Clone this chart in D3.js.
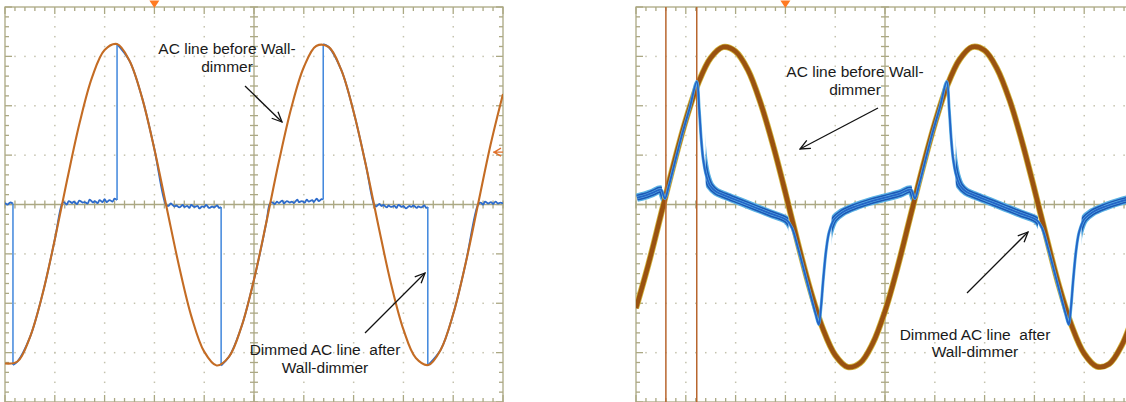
<!DOCTYPE html>
<html><head><meta charset="utf-8">
<script src="https://cdn.jsdelivr.net/npm/d3@7"></script>
<style>html,body{margin:0;padding:0;background:#fff;overflow:hidden}svg{display:block}</style>
</head><body><svg id="c" width="1126" height="402"></svg>
<script>
// ---- data (time in divisions, amplitude in divisions) ----
const sampleDiv = [0,0.25,0.5,0.75,1,1.25,1.5,1.75,2,2.25,2.5,2.75,3,3.25,3.5,3.75,4,4.25,4.5,4.75,5,5.25,5.5,5.75,6,6.25,6.5,6.75,7,7.25,7.5,7.75,8,8.25,8.5,8.75,9,9.25,9.5,9.75,10];
const leftLineBefore = [-3.22,-3.18,-2.69,-1.83,-0.71,0.51,1.66,2.58,3.13,3.25,2.91,2.17,1.12,-0.08,-1.27,-2.29,-2.98,-3.26,-3.08,-2.47,-1.52,-0.35,0.87,1.96,2.78,3.21,3.19,2.73,1.88,0.78,-0.44,-1.60,-2.53,-3.11,-3.25,-2.94,-2.22,-1.19,0.01,1.21,2.24];
const leftDimmed = [[0,0.03],[0.05,0.0],[0.1,0.04],[0.16,0.02],[0.16,-3.25],[0.25,-3.18],[0.5,-2.69],[0.75,-1.83],[1.0,-0.71],[1.14,0.0],
 [1.18,0.05],[1.24,0.0],[1.28,0.07],[1.35,0.03],[1.38,0.06],[1.45,0.01],[1.49,0.08],[1.56,0.04],[1.6,0.05],[1.66,0.02],[1.7,0.1],[1.77,0.04],[1.8,0.07],[1.86,0.03],[1.9,0.09],[1.96,0.05],[2.0,0.11],[2.04,0.05],[2.1,0.09],[2.16,0.06],[2.2,0.12],[2.25,0.09],
 [2.25,3.25],[2.5,2.91],[2.75,2.17],[3.0,1.12],[3.23,0.0],
 [3.28,-0.03],[3.33,0.02],[3.4,-0.04],[3.44,-0.02],[3.5,-0.06],[3.57,-0.01],[3.6,-0.05],[3.66,-0.03],[3.7,-0.07],[3.74,-0.01],[3.8,-0.05],[3.87,-0.03],[3.9,-0.08],[3.96,-0.04],[4.0,-0.05],[4.04,-0.01],[4.1,-0.07],[4.16,-0.04],[4.2,-0.06],[4.26,-0.02],[4.3,-0.07],[4.34,-0.05],
 [4.34,-3.26],[4.5,-3.08],[4.75,-2.47],[5.0,-1.52],[5.25,-0.35],[5.31,0.0],
 [5.35,0.05],[5.42,0.01],[5.46,0.06],[5.5,0.03],[5.57,0.08],[5.6,0.02],[5.66,0.07],[5.72,0.04],[5.76,0.06],[5.8,0.03],[5.87,0.1],[5.9,0.05],[5.96,0.07],[6.02,0.04],[6.06,0.1],[6.1,0.06],[6.17,0.09],[6.2,0.05],[6.26,0.12],[6.3,0.07],[6.36,0.11],[6.39,0.1],
 [6.39,3.25],[6.5,3.19],[6.75,2.73],[7.0,1.88],[7.25,0.78],[7.41,0.0],
 [7.45,-0.04],[7.52,0.01],[7.56,-0.03],[7.6,-0.01],[7.67,-0.06],[7.7,-0.02],[7.75,-0.05],[7.82,-0.03],[7.86,-0.07],[7.9,-0.01],[7.97,-0.05],[8.0,-0.03],[8.05,-0.08],[8.12,-0.03],[8.16,-0.05],[8.2,-0.02],[8.27,-0.07],[8.3,-0.04],[8.36,-0.06],[8.42,-0.02],[8.46,-0.07],[8.49,-0.05],
 [8.49,-3.26],[8.5,-3.25],[8.75,-2.94],[9.0,-2.22],[9.25,-1.19],[9.5,0.0],
 [9.55,0.04],[9.6,0.0],[9.64,0.06],[9.7,0.02],[9.76,0.05],[9.8,0.01],[9.85,0.06],[9.9,0.02],[9.95,0.04],[10,0.02]];
const rightLineBefore = [-2.10,-1.21,-0.21,0.79,1.71,2.46,2.97,3.19,3.10,2.72,2.06,1.21,0.24,-0.78,-1.73,-2.51,-3.05,-3.29,-3.21,-2.82,-2.16,-1.28,-0.28,0.72,1.64,2.41,2.94,3.19,3.12,2.75,2.12,1.28,0.31,-0.70,-1.67,-2.46,-3.02,-3.28,-3.23,-2.86,-2.21];
const rightDimmed = [[0.02,0.14],[0.18,0.18],[0.34,0.24],[0.50,0.30],[0.58,0.12],[0.66,0.38],[0.78,0.85],[0.92,1.40],[1.08,1.96],[1.22,2.49],
 [1.27,1.92],[1.31,1.32],[1.35,0.91],[1.41,0.59],[1.49,0.38],[1.61,0.26],[1.79,0.18],[2.09,0.06],[2.39,-0.06],[2.69,-0.18],[3.03,-0.32],
 [3.13,-0.47],[3.25,-0.87],[3.37,-1.32],[3.49,-1.78],[3.61,-2.23],[3.67,-2.43],
 [3.71,-2.13],[3.76,-1.52],[3.82,-0.91],[3.88,-0.55],[3.98,-0.30],[4.14,-0.16],[4.40,-0.04],[4.70,0.06],[5.00,0.14],[5.30,0.22],[5.52,0.30],
 [5.60,0.12],[5.68,0.38],[5.80,0.85],[5.94,1.40],[6.10,1.96],[6.24,2.49],
 [6.29,1.92],[6.33,1.32],[6.37,0.91],[6.43,0.59],[6.51,0.38],[6.63,0.26],[6.81,0.18],[7.11,0.06],[7.41,-0.06],[7.71,-0.18],[8.05,-0.32],
 [8.15,-0.47],[8.27,-0.87],[8.39,-1.32],[8.51,-1.78],[8.63,-2.23],[8.69,-2.43],
 [8.73,-2.13],[8.78,-1.52],[8.84,-0.91],[8.90,-0.55],[9.00,-0.30],[9.16,-0.16],[9.42,-0.04],[9.72,0.06],[10.0,0.13]];
const rightNoisyBands = [[0,0.52],[1.40,3.06],[3.93,5.54],[6.42,8.07],[8.95,10]];
const rightCursors = [0.60, 1.22];
const triggerDiv = 3;
const leftTriggerLevel = 1.06;
const labelBefore = ["AC line before Wall-", "dimmer"];
const labelAfter = ["Dimmed AC line  after", "Wall-dimmer"];

// ---- drawing ----
const svg = d3.select('#c');
const defs = svg.append('defs');
defs.append('marker').attr('id','arr').attr('viewBox','0 0 12 12').attr('refX',11).attr('refY',6)
  .attr('markerWidth',12).attr('markerHeight',12).attr('markerUnits','userSpaceOnUse').attr('orient','auto')
  .append('path').attr('d','M1,1.5 L11,6 L1,10.5').attr('fill','none').attr('stroke','#111').attr('stroke-width',1.3);

const GRID = '#aba883', DOT = '#c4c2ae';

function makePanel(x0, id) {
  const x = d3.scaleLinear().domain([0,10]).range([x0, x0 + 498]);
  const y = d3.scaleLinear().domain([-4,4]).range([402, 7]);
  const g = svg.append('g');
  defs.append('clipPath').attr('id', id).append('rect')
    .attr('x', x(0)).attr('y', y(4)).attr('width', x(10)-x(0)).attr('height', y(-4)-y(4));
  const minorX = d3.range(0, 50.5, 1).map(i => i/5);
  const minorY = d3.range(-20, 20.5, 1).map(i => i/5);
  const dots = g.append('g').attr('fill', DOT);
  for (let i = 1; i < 10; i++) if (i !== 5)
    minorY.forEach(v => { if (Math.abs(v - Math.round(v)) > 0.01) dots.append('rect').attr('x', x(i)-0.7).attr('y', y(v)-0.7).attr('width',1.5).attr('height',1.5); });
  for (let k = -3; k <= 3; k++) if (k !== 0)
    minorX.forEach(v => { if (Math.abs(v - Math.round(v)) > 0.01) dots.append('rect').attr('x', x(v)-0.7).attr('y', y(k)-0.7).attr('width',1.5).attr('height',1.5); });
  for (let i = 1; i < 10; i++) for (let k = -3; k <= 3; k++) if (i!==5 && k!==0)
    dots.append('rect').attr('x', x(i)-0.8).attr('y', y(k)-0.8).attr('width',1.8).attr('height',1.8);
  const lines = g.append('g').attr('stroke', GRID).attr('stroke-width', 1.3).attr('fill','none');
  lines.append('line').attr('x1', x(0)).attr('x2', x(10)).attr('y1', y(0)).attr('y2', y(0));
  lines.append('line').attr('x1', x(5)).attr('x2', x(5)).attr('y1', y(-4)).attr('y2', y(4));
  minorX.forEach(v => lines.append('line').attr('x1', x(v)).attr('x2', x(v)).attr('y1', y(0)-4).attr('y2', y(0)+4));
  minorY.forEach(v => lines.append('line').attr('x1', x(5)-4).attr('x2', x(5)+4).attr('y1', y(v)).attr('y2', y(v)));
  lines.append('rect').attr('x', x(0)).attr('y', y(4)).attr('width', x(10)-x(0)).attr('height', y(-4)-y(4));
  minorX.forEach(v => {
    const L = Math.abs(v - Math.round(v)) < 0.01 ? 7 : 4;
    lines.append('line').attr('x1', x(v)).attr('x2', x(v)).attr('y1', y(4)).attr('y2', y(4)+L);
    lines.append('line').attr('x1', x(v)).attr('x2', x(v)).attr('y1', y(-4)).attr('y2', y(-4)-L);
  });
  minorY.forEach(v => {
    const L = Math.abs(v - Math.round(v)) < 0.01 ? 7 : 4;
    lines.append('line').attr('x1', x(0)).attr('x2', x(0)+L).attr('y1', y(v)).attr('y2', y(v));
    lines.append('line').attr('x1', x(10)).attr('x2', x(10)-L).attr('y1', y(v)).attr('y2', y(v));
  });
  const tx = x(triggerDiv);
  svg.append('path').attr('d', `M${tx-5},0.5 L${tx+5},0.5 L${tx},8 Z`).attr('fill', '#ff7a22');
  const traces = svg.append('g').attr('clip-path', `url(#${id})`);
  return {x, y, traces};
}

// Left panel
const L = makePanel(5, 'clipL');
{
  const line = d3.line().x(d => L.x(d[0])).y(d => L.y(d[1])).curve(d3.curveCatmullRom.alpha(0.5));
  const pieces = [[]], jumps = [];
  leftDimmed.forEach((p, i) => {
    if (i > 0 && p[0] === leftDimmed[i-1][0]) { jumps.push([leftDimmed[i-1], p]); pieces.push([]); }
    pieces[pieces.length-1].push(p);
  });
  pieces.forEach(pc => L.traces.append('path').attr('d', line(pc)).attr('fill','none')
     .attr('stroke', '#2d6bcb').attr('stroke-width', 1.8));
  jumps.forEach(j => L.traces.append('line').attr('x1', L.x(j[0][0])).attr('x2', L.x(j[1][0]))
     .attr('y1', L.y(j[0][1])).attr('y2', L.y(j[1][1])).attr('stroke', '#3f86dc').attr('stroke-width', 1.5));
  const before = sampleDiv.map((t, i) => [t, leftLineBefore[i]]);
  L.traces.append('path').attr('d', line(before)).attr('fill','none').attr('stroke', '#c46c24').attr('stroke-width', 2.1);
  const yv = L.y(leftTriggerLevel), xr = L.x(10);
  svg.append('path').attr('d', `M${xr-2},${yv-4} L${xr-9},${yv} L${xr-2},${yv+4} M${xr-10},${yv} L${xr},${yv}`)
     .attr('fill','none').attr('stroke','#e0702a').attr('stroke-width',1.3);
}

// Right panel
const R = makePanel(636, 'clipR');
{
  const line = d3.line().x(d => R.x(d[0])).y(d => R.y(d[1])).curve(d3.curveCatmullRom.alpha(0.5));
  const before = sampleDiv.map((t, i) => [t, rightLineBefore[i]]);
  R.traces.append('path').attr('d', line(before)).attr('fill','none').attr('stroke', '#d2b43c').attr('stroke-width', 6.2);
  R.traces.append('path').attr('d', line(before)).attr('fill','none').attr('stroke', '#9a5210').attr('stroke-width', 4.6);
  rightCursors.forEach(c => R.traces.append('line').attr('x1', R.x(c)).attr('x2', R.x(c))
     .attr('y1', R.y(4)).attr('y2', R.y(-4)).attr('stroke', '#b8662e').attr('stroke-width', 1.5));
  const bandClip = defs.append('clipPath').attr('id', 'bandR');
  rightNoisyBands.forEach(b => bandClip.append('rect').attr('x', R.x(b[0])).attr('y', 0)
     .attr('width', R.x(b[1]) - R.x(b[0])).attr('height', 402));
  const band = R.traces.append('g').attr('clip-path', 'url(#bandR)');
  band.append('path').attr('d', line(rightDimmed)).attr('fill','none').attr('stroke', '#5ab2e4').attr('stroke-width', 8.5);
  band.append('path').attr('d', line(rightDimmed)).attr('fill','none').attr('stroke', '#1d57b6').attr('stroke-width', 6);
  R.traces.append('path').attr('d', line(rightDimmed)).attr('fill','none').attr('stroke', '#5ab2e4').attr('stroke-width', 3);
  R.traces.append('path').attr('d', line(rightDimmed)).attr('fill','none').attr('stroke', '#2463c6').attr('stroke-width', 1.8);
}

// Annotations
const FONT = "'Liberation Sans', Arial, sans-serif";
function label(lines, cx, y0, dy) {
  const t = svg.append('text').attr('font-family', FONT).attr('font-size', '15.5px').attr('fill', '#1a1a1a')
    .attr('text-anchor', 'middle').style('white-space', 'pre');
  lines.forEach((s, i) => t.append('tspan').attr('x', cx).attr('y', y0 + i*dy).text(s));
}
function arrow(x1, y1, x2, y2) {
  svg.append('line').attr('x1', x1).attr('y1', y1).attr('x2', x2).attr('y2', y2)
    .attr('stroke', '#111').attr('stroke-width', 1.3).attr('marker-end', 'url(#arr)');
}
label(labelBefore, 227, 54, 18);
arrow(245, 86, 282, 122);
label(labelAfter, 325, 355, 18);
arrow(365, 333, 425, 273);
label(labelBefore, 855, 77, 18);
arrow(878, 108, 800, 149);
label(labelAfter, 975, 340, 17);
arrow(967, 293, 1028, 232);
</script></body></html>
